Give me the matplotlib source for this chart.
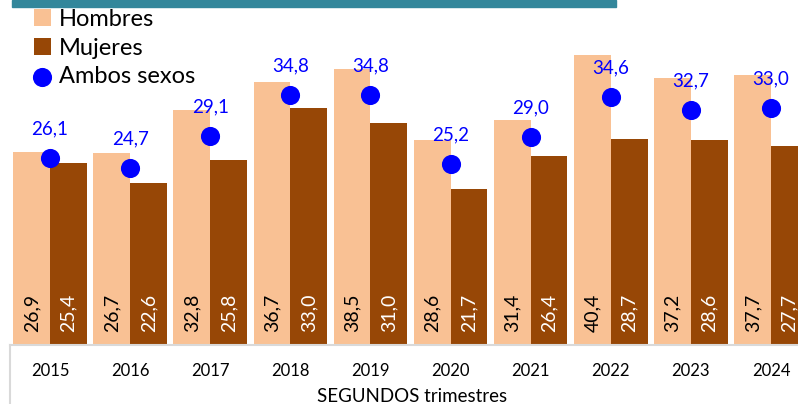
import matplotlib
matplotlib.use("Agg")
import matplotlib.pyplot as plt
import numpy as np

plt.rcParams["font.family"] = ["Lato", "DejaVu Sans"]

years = ["2015", "2016", "2017", "2018", "2019", "2020", "2021", "2022", "2023", "2024"]
hombres = [26.9, 26.7, 32.8, 36.7, 38.5, 28.6, 31.4, 40.4, 37.2, 37.7]
mujeres = [25.4, 22.6, 25.8, 33.0, 31.0, 21.7, 26.4, 28.7, 28.6, 27.7]
ambos = [26.1, 24.7, 29.1, 34.8, 34.8, 25.2, 29.0, 34.6, 32.7, 33.0]

C_H = "#F9C194"; C_M = "#974706"; C_A = "#0000FF"
W, H = 798, 404
fig = plt.figure(figsize=(W/100, H/100), dpi=100)
# axes runs a bit past the right edge, like the cropped original
ax = fig.add_axes([10/W, (H-345)/H, 801/W, 345/H])
x = np.arange(len(years)); bw = 0.46
bh = ax.bar(x-0.23, hombres, bw, color=C_H, label="Hombres", zorder=2)
bm = ax.bar(x+0.23, mujeres, bw, color=C_M, label="Mujeres", zorder=2)
sc = ax.scatter(x, ambos, s=190, color=C_A, zorder=4, label="Ambos sexos", linewidths=0)
fmt = lambda v: f"{v:.1f}".replace(".", ",")
for i in range(len(years)):
    ax.annotate(fmt(hombres[i]), (x[i]-0.23, 0), xytext=(0, 9), textcoords="offset points",
                rotation=90, ha="center", va="bottom", fontsize=14, color="black", zorder=5)
    ax.annotate(fmt(mujeres[i]), (x[i]+0.23, 0), xytext=(0, 9), textcoords="offset points",
                rotation=90, ha="center", va="bottom", fontsize=14, color="white", zorder=5)
    ax.annotate(fmt(ambos[i]), (x[i], ambos[i]), xytext=(0, 21), textcoords="offset points",
                ha="center", va="center", fontsize=13.5, color=C_A, zorder=5)
ax.set_xlim(-0.5, 9.5); ax.set_ylim(0, 48.1)
ax.set_yticks([])
ax.set_xticks(x); ax.set_xticklabels(years, fontsize=12)
ax.tick_params(axis="x", length=0, pad=13)
for s in ["top", "right", "left"]: ax.spines[s].set_visible(False)
ax.spines["bottom"].set_color("#d9d9d9"); ax.spines["bottom"].set_linewidth(1.5)
fig.add_artist(plt.Line2D([10/W, 10/W], [0, (H-345)/H], color="#d9d9d9", lw=1.5))
fig.text(412/W, 1-396/H, "SEGUNDOS trimestres", ha="center", va="center", fontsize=13.5)
# title banner, cut off by the crop
fig.add_artist(plt.Rectangle((12/W, 1-7/H), 604/W, 7/H, color="#33879B", transform=fig.transFigure))
leg = fig.legend([bh, bm, sc], ["Hombres", "Mujeres", "Ambos sexos"],
                 loc="upper left", bbox_to_anchor=(34/W, 1-9/H), frameon=False, fontsize=17,
                 handlelength=0.7, handleheight=0.7, handletextpad=0.35, labelspacing=0.32,
                 borderaxespad=0, borderpad=0)
fig.savefig("out.png", dpi=100)
